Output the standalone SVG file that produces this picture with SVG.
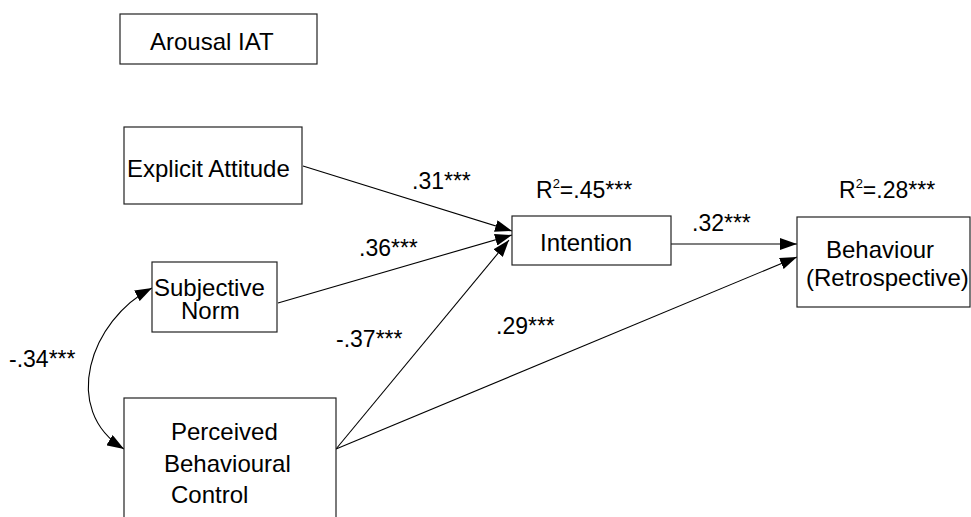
<svg xmlns="http://www.w3.org/2000/svg" width="971" height="517" viewBox="0 0 971 517">
<style>
.box{fill:#fff;stroke:#222;stroke-width:1.2}
.t{font-family:"Liberation Sans",Arial,sans-serif;font-size:24px;fill:#000}
.l{font-family:"Liberation Sans",Arial,sans-serif;font-size:23px;fill:#000}
.sup{font-size:13px}
.c{fill:none;stroke:#000;stroke-width:1.1}
</style>
<defs>
<marker id="ah" viewBox="0 0 17 12" refX="17" refY="6" markerWidth="17" markerHeight="12" markerUnits="userSpaceOnUse" orient="auto-start-reverse">
<path d="M0,0 L17,6 L0,12 z" fill="#000"/>
</marker>
</defs>
<rect width="971" height="517" fill="#fff"/>
<g id="connectors">
<path class="c" d="M303,166 L512,231" marker-end="url(#ah)"/>
<path class="c" d="M278,303 L512,235" marker-end="url(#ah)"/>
<path class="c" d="M336,449 L509,240" marker-end="url(#ah)"/>
<path class="c" d="M671,244 L797,244" marker-end="url(#ah)"/>
<path class="c" d="M336,449 L797,257" marker-end="url(#ah)"/>
<path class="c" d="M152,288 C90,320 60,410 124,449" marker-start="url(#ah)" marker-end="url(#ah)"/>
</g>
<g id="arousal-iat">
<rect class="box" x="120" y="14" width="197" height="50"/>
<text class="t" x="150" y="50">Arousal IAT</text>
</g>
<g id="explicit-attitude">
<rect class="box" x="124" y="127" width="178" height="77"/>
<text class="t" x="127" y="177">Explicit Attitude</text>
</g>
<g id="subjective-norm">
<rect class="box" x="152" y="262" width="125" height="70"/>
<text class="t" x="154" y="296">Subjective</text>
<text class="t" x="181" y="319">Norm</text>
</g>
<g id="pbc">
<rect class="box" x="124" y="398" width="212" height="130"/>
<text class="t" x="171" y="440">Perceived</text>
<text class="t" x="164" y="472">Behavioural</text>
<text class="t" x="171" y="503">Control</text>
</g>
<g id="intention">
<rect class="box" x="512" y="216" width="159" height="49"/>
<text class="t" x="540" y="251">Intention</text>
<text class="l" x="536" y="198">R<tspan class="sup" dy="-10">2</tspan><tspan dy="10">=.45***</tspan></text>
</g>
<g id="behaviour">
<rect class="box" x="797" y="217" width="173" height="90"/>
<text class="t" x="826" y="258">Behaviour</text>
<text class="t" x="806" y="286">(Retrospective)</text>
<text class="l" x="839" y="198">R<tspan class="sup" dy="-10">2</tspan><tspan dy="10">=.28***</tspan></text>
</g>
<g id="labels">
<text class="l" x="412" y="189">.31***</text>
<text class="l" x="359" y="256">.36***</text>
<text class="l" x="336" y="347">-.37***</text>
<text class="l" x="496" y="334">.29***</text>
<text class="l" x="692" y="231">.32***</text>
<text class="l" x="9" y="367">-.34***</text>
</g>
</svg>
